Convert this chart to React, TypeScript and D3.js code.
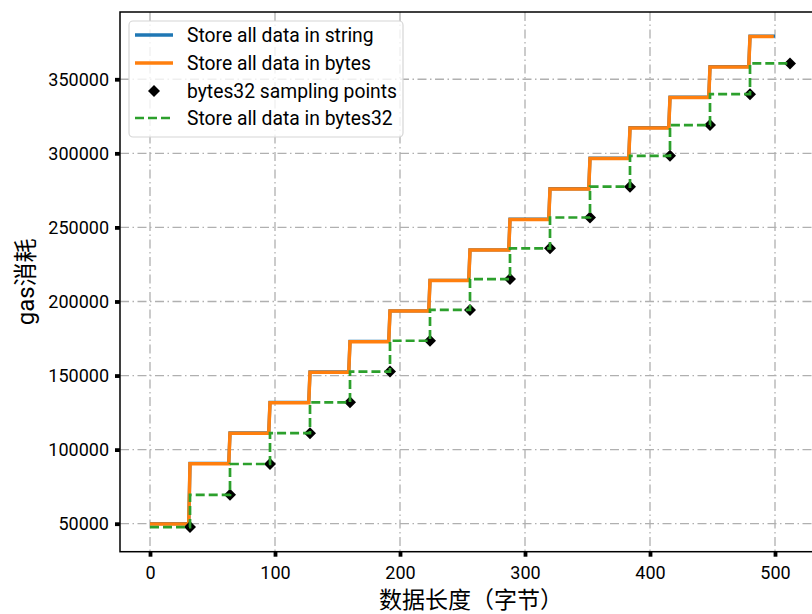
import React, { useRef, useEffect } from 'react';
import * as d3 from 'd3';

// data
const blockStarts = [0, 32, 64, 96, 128, 160, 192, 224, 256, 288, 320, 352, 384, 416, 448, 480];
const stringGas = [50000, 90700, 111300, 131900, 152500, 173100, 193700, 214300, 234900, 255500, 276100, 296700, 317300, 337900, 358500, 379100];
const bytesGas = [49800, 90500, 111100, 131700, 152300, 172900, 193500, 214100, 234700, 255300, 275900, 296500, 317100, 337700, 358300, 378900];
const sampleLengths = [32, 64, 96, 128, 160, 192, 224, 256, 288, 320, 352, 384, 416, 448, 480, 512];
const bytes32Gas = [47700, 69500, 90300, 111100, 131900, 152700, 173500, 194300, 215100, 235900, 256700, 277500, 298300, 319100, 339900, 360700];
const stringEnd = 500;
const bytesEnd = 499;

const xTicks = [0, 100, 200, 300, 400, 500];
const yTicks = [50000, 100000, 150000, 200000, 250000, 300000, 350000];

const legendLabels = ['Store all data in string', 'Store all data in bytes', 'bytes32 sampling points', 'Store all data in bytes32'];

const FONT = 'Roboto, "Noto Sans CJK SC", sans-serif';

const stepPoints = (levels: number[], end: number) => {
	const pts: [number, number][] = [];
	blockStarts.forEach((s, i) => {
		pts.push([s, levels[i]]);
		pts.push([Math.min(s + 31, end), levels[i]]);
	});
	return pts;
};

const diamond = (r: number) => `M0,${-r}L${r},0L0,${r}L${-r},0Z`;

const App = () => {
	const svgRef = useRef<SVGSVGElement>(null);

	useEffect(() => {
		const width = 812;
		const height = 614;
		const left = 120, right = 822, top = 12, bottom = 551.7;

		const svg = d3.select(svgRef.current)
			.attr('width', width)
			.attr('height', height);
		svg.selectAll('*').remove();

		svg.append('rect').attr('width', width).attr('height', height).attr('fill', 'white');

		const x = d3.scaleLinear().domain([-24, 537.6]).range([left, right]);
		const y = d3.scaleLinear().domain([31100, 395400]).range([bottom, top]);

		// grid
		const grid = svg.append('g')
			.attr('stroke', '#b0b0b0')
			.attr('stroke-width', 1.3)
			.attr('stroke-dasharray', '9,3.5,1.5,3.5');
		grid.selectAll('.gx').data(xTicks).join('line')
			.attr('x1', d => x(d)).attr('x2', d => x(d))
			.attr('y1', top).attr('y2', bottom);
		grid.selectAll('.gy').data(yTicks).join('line')
			.attr('y1', d => y(d)).attr('y2', d => y(d))
			.attr('x1', left).attr('x2', right);

		const line = d3.line<[number, number]>()
			.x(d => x(d[0]))
			.y(d => y(d[1]));

		svg.append('path')
			.attr('d', line(stepPoints(stringGas, stringEnd)))
			.attr('fill', 'none').attr('stroke', '#1f77b4').attr('stroke-width', 3.3);

		svg.append('path')
			.attr('d', line(stepPoints(bytesGas, bytesEnd)))
			.attr('fill', 'none').attr('stroke', '#ff7f0e').attr('stroke-width', 3.5);

		svg.selectAll('.marker')
			.data(sampleLengths.map((l, i) => [l, bytes32Gas[i]]))
			.join('path')
				.attr('d', diamond(6))
				.attr('transform', d => `translate(${x(d[0])},${y(d[1])})`)
				.attr('fill', 'black');

		const dashedPts: [number, number][] = [[0, bytes32Gas[0]], ...sampleLengths.map((l, i) => [l, bytes32Gas[i]] as [number, number])];
		svg.append('path')
			.attr('d', line.curve(d3.curveStepBefore)(dashedPts))
			.attr('fill', 'none').attr('stroke', '#2ca02c').attr('stroke-width', 2.7)
			.attr('stroke-dasharray', '9,4');

		// axes
		const xAxis = d3.axisBottom(x).tickValues(xTicks).tickSize(5).tickPadding(6).tickFormat(d => String(d));
		const yAxis = d3.axisLeft(y).tickValues(yTicks).tickSize(5).tickPadding(6).tickFormat(d => String(d));

		const gx = svg.append('g').attr('transform', `translate(0, ${bottom})`).call(xAxis);
		const gy = svg.append('g').attr('transform', `translate(${left}, 0)`).call(yAxis);
		[gx, gy].forEach(g => {
			g.select('.domain').remove();
			g.selectAll('line').attr('stroke', 'black').attr('stroke-width', 3.8);
			g.selectAll('text')
				.attr('fill', 'black')
				.style('font-family', FONT)
				.style('font-size', '18px');
		});
		gx.selectAll('text').attr('dy', '0.9em');

		// spines
		svg.append('rect')
			.attr('x', left).attr('y', top)
			.attr('width', right - left).attr('height', bottom - top)
			.attr('fill', 'none').attr('stroke', 'black').attr('stroke-width', 1.5);

		// axis labels
		svg.append('text')
			.attr('x', (left + right) / 2).attr('y', 608)
			.attr('text-anchor', 'middle')
			.style('font-family', FONT).style('font-size', '23px')
			.text('数据长度（字节）');

		svg.append('text')
			.attr('transform', `translate(34, ${(top + bottom) / 2}) rotate(-90)`)
			.attr('text-anchor', 'middle')
			.style('font-family', FONT).style('font-size', '24px')
			.text('gas消耗');

		// legend
		const lg = svg.append('g');
		lg.append('rect')
			.attr('x', 129).attr('y', 21).attr('width', 274).attr('height', 116)
			.attr('rx', 4)
			.attr('fill', 'white').attr('fill-opacity', 0.8)
			.attr('stroke', '#d6d6d6').attr('stroke-width', 1.2);
		const rows = [35, 63, 91, 118];
		lg.append('line').attr('x1', 135).attr('x2', 173).attr('y1', rows[0]).attr('y2', rows[0])
			.attr('stroke', '#1f77b4').attr('stroke-width', 3.3);
		lg.append('line').attr('x1', 135).attr('x2', 173).attr('y1', rows[1]).attr('y2', rows[1])
			.attr('stroke', '#ff7f0e').attr('stroke-width', 3.5);
		lg.append('path').attr('d', diamond(6)).attr('transform', `translate(154, ${rows[2]})`).attr('fill', 'black');
		lg.append('line').attr('x1', 135).attr('x2', 173).attr('y1', rows[3]).attr('y2', rows[3])
			.attr('stroke', '#2ca02c').attr('stroke-width', 2.7).attr('stroke-dasharray', '9,4');
		lg.selectAll('.lt').data(legendLabels).join('text')
			.attr('x', 187).attr('y', (d, i) => rows[i])
			.attr('dy', '0.35em')
			.style('font-family', FONT).style('font-size', '19.3px')
			.text(d => d);
	}, []);

	return (
		<svg ref={svgRef} style={{ position: 'absolute', left: 0, top: 0, display: 'block' }}></svg>
	);
};

export default App;
